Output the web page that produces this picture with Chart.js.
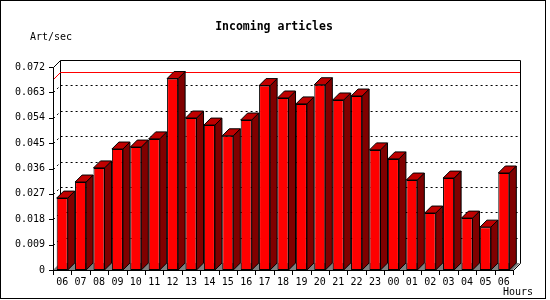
<!DOCTYPE html>
<html>
<head>
<meta charset="utf-8">
<script src="https://cdn.jsdelivr.net/npm/chart.js@4/dist/chart.umd.min.js"></script>
<style>
  html, body { margin: 0; padding: 0; background: #fff; }
  #wrap { width: 550px; height: 300px; }
</style>
</head>
<body>
<div id="wrap"><canvas id="articlesChart" width="550" height="300"></canvas></div>
<script>
// hours shown on the x axis (06 -> 06 next day)
const hours = ['06','07','08','09','10','11','12','13','14','15','16','17',
               '18','19','20','21','22','23','00','01','02','03','04','05','06'];
// incoming articles per second
const artPerSec = [0.0255, 0.0312, 0.0362, 0.0429, 0.0436, 0.0465, 0.0679, 0.0539,
                   0.0514, 0.0476, 0.0532, 0.0654, 0.0610, 0.0589, 0.0657, 0.0603,
                   0.0617, 0.0426, 0.0394, 0.0319, 0.0202, 0.0326, 0.0184, 0.0152, 0.0344];
const yTickValues = [0, 0.009, 0.018, 0.027, 0.036, 0.045, 0.054, 0.063, 0.072];
const yTickLabels = ['0','0.009','0.018','0.027','0.036','0.045','0.054','0.063','0.072'];

const DEPTH = 7; // 3d offset in px
const MONO = '"DejaVu Sans Mono", monospace';

// 3d look: back wall, grid, floor, then bar sides/tops and front axes
const bars3d = {
    id: 'bars3d',
    beforeDatasetsDraw(chart) {
        const ctx = chart.ctx;
        const { left, right, top, bottom } = chart.chartArea;
        const yScale = chart.scales.y;
        const D = DEPTH;
        ctx.save();

        // back wall
        ctx.strokeStyle = '#000';
        ctx.lineWidth = 1;
        ctx.beginPath();
        ctx.moveTo(left + 0.5, top + 0.5);
        ctx.lineTo(left + D + 0.5, top - D + 0.5);
        ctx.lineTo(right + D + 0.5, top - D + 0.5);
        ctx.lineTo(right + D + 0.5, bottom - D + 0.5);
        ctx.lineTo(right + 0.5, bottom + 0.5);
        ctx.moveTo(left + D + 0.5, top - D + 0.5);
        ctx.lineTo(left + D + 0.5, bottom - D + 0.5);
        ctx.stroke();

        // dotted grid lines on the back wall
        ctx.setLineDash([2, 3]);
        yTickValues.forEach((v) => {
            if (v === 0 || v === yTickValues[yTickValues.length - 1]) return;
            const y = Math.round(yScale.getPixelForValue(v));
            ctx.beginPath();
            ctx.moveTo(left + 0.5, y + 0.5);
            ctx.lineTo(left + D + 0.5, y - D + 0.5);
            ctx.lineTo(right + D, y - D + 0.5);
            ctx.stroke();
        });
        ctx.setLineDash([]);

        // red line at the maximum value
        const yMax = Math.round(yScale.getPixelForValue(Math.max(...artPerSec)));
        ctx.strokeStyle = '#ff0000';
        ctx.beginPath();
        ctx.moveTo(left + 0.5, yMax + 0.5);
        ctx.lineTo(left + D + 0.5, yMax - D + 0.5);
        ctx.lineTo(right + D, yMax - D + 0.5);
        ctx.stroke();

        // floor
        ctx.fillStyle = '#808080';
        ctx.beginPath();
        ctx.moveTo(left, bottom);
        ctx.lineTo(right, bottom);
        ctx.lineTo(right + D, bottom - D);
        ctx.lineTo(left + D, bottom - D);
        ctx.closePath();
        ctx.fill();
        ctx.restore();
    },
    afterDatasetsDraw(chart) {
        const ctx = chart.ctx;
        const { left, right, top, bottom } = chart.chartArea;
        const xScale = chart.scales.x;
        const D = DEPTH;
        ctx.save();
        ctx.lineWidth = 1;
        ctx.strokeStyle = '#000';

        chart.getDatasetMeta(0).data.forEach((bar) => {
            const { x, y, base, width } = bar.getProps(['x', 'y', 'base', 'width'], true);
            const l = x - width / 2;
            const r = x + width / 2;
            // side
            ctx.fillStyle = '#800000';
            ctx.beginPath();
            ctx.moveTo(r, y);
            ctx.lineTo(r + D, y - D);
            ctx.lineTo(r + D, base - D);
            ctx.lineTo(r, base);
            ctx.closePath();
            ctx.fill();
            ctx.stroke();
            // top
            ctx.fillStyle = '#c00000';
            ctx.beginPath();
            ctx.moveTo(l, y);
            ctx.lineTo(l + D, y - D);
            ctx.lineTo(r + D, y - D);
            ctx.lineTo(r, y);
            ctx.closePath();
            ctx.fill();
            ctx.stroke();
        });

        // front axes
        ctx.beginPath();
        ctx.moveTo(left + 0.5, top + 0.5);
        ctx.lineTo(left + 0.5, bottom + 0.5);
        ctx.lineTo(right + 0.5, bottom + 0.5);
        ctx.stroke();

        // y tick marks
        chart.scales.y.ticks.forEach((t) => {
            const y = Math.round(chart.scales.y.getPixelForValue(t.value));
            ctx.beginPath();
            ctx.moveTo(left - 4, y + 0.5);
            ctx.lineTo(left + 0.5, y + 0.5);
            ctx.stroke();
        });

        // x tick marks between categories
        const step = (right - left) / hours.length;
        for (let i = 0; i <= hours.length; i++) {
            const xp = Math.round(xScale.getPixelForValue(i) - step / 2);
            ctx.beginPath();
            ctx.moveTo(xp + 0.5, bottom);
            ctx.lineTo(xp + 0.5, bottom + 5);
            ctx.stroke();
        }

        // texts
        ctx.fillStyle = '#000';
        ctx.textBaseline = 'alphabetic';
        ctx.font = 'bold 11.5px ' + MONO;
        ctx.textAlign = 'center';
        ctx.fillText('Incoming articles', 274, 30);
        ctx.font = '10px ' + MONO;
        ctx.textAlign = 'left';
        ctx.fillText('Art/sec', 30, 40);
        ctx.fillText('Hours', 503, 295);

        // outer frame
        ctx.strokeRect(0.5, 0.5, 545, 298);
        ctx.restore();
    }
};

const chart = new Chart(document.getElementById('articlesChart'), {
    type: 'bar',
    data: {
        labels: hours,
        datasets: [{
            data: artPerSec,
            backgroundColor: '#ff0000',
            borderColor: '#000',
            borderWidth: 1,
            borderSkipped: false,
            barPercentage: 0.6,
            categoryPercentage: 1.0,
        }],
    },
    options: {
        responsive: false,
        animation: false,
        devicePixelRatio: 1,
        layout: { padding: { left: 0, right: 37, top: 67, bottom: 0 } },
        plugins: {
            legend: { display: false },
            title: { display: false },
            tooltip: { enabled: false },
        },
        scales: {
            x: {
                grid: { display: false, drawTicks: false },
                border: { display: false },
                ticks: {
                    color: '#000',
                    font: { family: MONO, size: 10 },
                    padding: 6,
                    maxRotation: 0,
                    autoSkip: false,
                },
                afterFit: (scale) => { scale.height = 30; },
            },
            y: {
                min: 0,
                max: 0.072,
                grid: { display: false, drawTicks: false },
                border: { display: false },
                afterBuildTicks: (scale) => {
                    scale.ticks = yTickValues.map((v) => ({ value: v }));
                },
                ticks: {
                    color: '#000',
                    font: { family: MONO, size: 10 },
                    padding: 8,
                    callback: (value, index) => yTickLabels[index],
                },
                afterFit: (scale) => { scale.width = 53; },
            },
        },
    },
    plugins: [bars3d],
});
</script>
</body>
</html>
